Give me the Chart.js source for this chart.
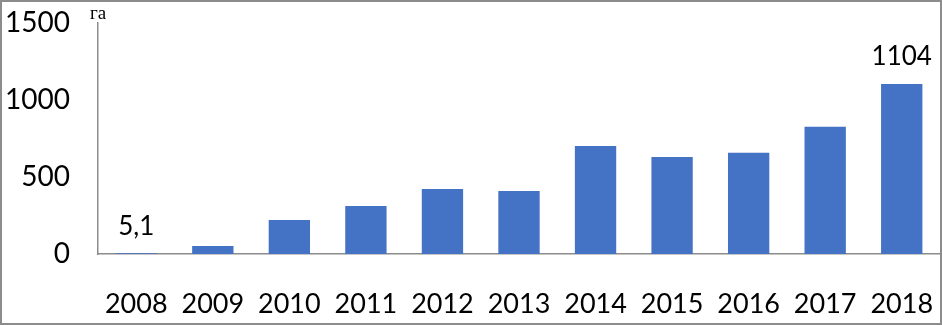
<!DOCTYPE html>
<html>
<head>
<meta charset="utf-8">
<script src="https://cdn.jsdelivr.net/npm/chart.js@4/dist/chart.umd.min.js"></script>
<style>
  html, body { margin: 0; padding: 0; background: #fff; }
  #wrap { width: 942px; height: 325px; }
</style>
</head>
<body>
<div id="wrap"><canvas id="areaChart"></canvas></div>
<script>
// DATOS DEL GRAFICO
const years = ['2008', '2009', '2010', '2011', '2012', '2013', '2014', '2015', '2016', '2017', '2018'];
const hectares = [5.1, 52, 221, 312, 422, 409, 701, 630, 658, 826, 1104];
const shownLabels = ['5,1', '', '', '', '', '', '', '', '', '', '1104'];
const yTicks = [0, 500, 1000, 1500];
const unitText = 'га';

const fontFamily = 'Lato, "Open Sans", sans-serif';

// ETIQUETAS Y MARCO
const extras = {
  id: 'extras',
  afterDraw(chart) {
    const ctx = chart.ctx;
    const meta = chart.getDatasetMeta(0);
    ctx.save();
    ctx.fillStyle = '#000';
    ctx.font = '26px ' + fontFamily;
    ctx.textAlign = 'center';
    ctx.textBaseline = 'bottom';
    meta.data.forEach((bar, i) => {
      if (shownLabels[i]) {
        ctx.fillText(shownLabels[i], bar.x, bar.y - 14);
      }
    });
    // unidad
    ctx.font = '19px "Liberation Serif", serif';
    ctx.textAlign = 'left';
    ctx.textBaseline = 'alphabetic';
    ctx.fillText(unitText, chart.chartArea.left - 8, 19);
    // marco
    ctx.strokeStyle = '#8c8c8c';
    ctx.lineWidth = 2;
    ctx.strokeRect(1, 1, chart.width - 2, chart.height - 2);
    ctx.restore();
  }
};

const chart = new Chart(document.getElementById('areaChart'), {
  type: 'bar',
  data: {
    labels: years,
    datasets: [{
      data: hectares,
      backgroundColor: '#4472C4',
      categoryPercentage: 1,
      barPercentage: 0.54
    }]
  },
  options: {
    responsive: true,
    maintainAspectRatio: false,
    animation: false,
    layout: { padding: { left: 0, right: 2, top: 23, bottom: 0 } },
    plugins: { legend: { display: false }, tooltip: { enabled: false } },
    scales: {
      x: {
        grid: { display: false, drawTicks: false },
        border: { color: '#8c8c8c', width: 1.5 },
        ticks: { color: '#000', font: { family: fontFamily, size: 27 }, padding: 34, maxRotation: 0, autoSkip: false },
        afterFit(scale) {
          scale.height = 71;
          scale.paddingLeft = 0;
          scale.paddingRight = 0;
        }
      },
      y: {
        min: 0,
        max: 1500,
        afterBuildTicks(scale) { scale.ticks = yTicks.map(v => ({ value: v })); },
        grid: { display: false, drawTicks: false },
        border: { color: '#8c8c8c', width: 1.5 },
        ticks: {
          color: '#000',
          font: { family: fontFamily, size: 28 },
          padding: 28,
          callback: v => String(v)
        },
        afterFit(scale) {
          scale.width = 98;
          scale.paddingTop = 0;
          scale.paddingBottom = 0;
        }
      }
    }
  },
  plugins: [extras]
});
</script>
</body>
</html>
